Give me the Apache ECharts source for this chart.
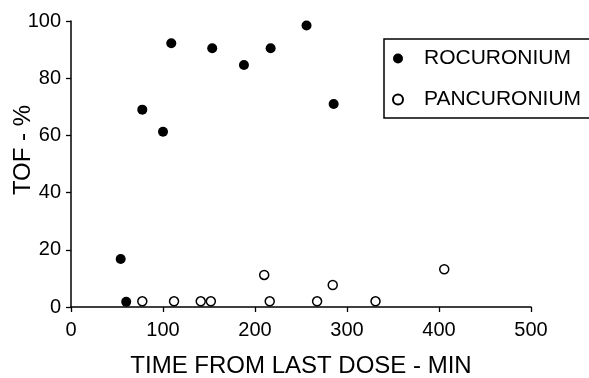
<!DOCTYPE html>
<html>
<head>
<meta charset="utf-8">
<script src="https://cdn.jsdelivr.net/npm/echarts@6/dist/echarts.min.js"></script>
<style>
  html, body { margin: 0; padding: 0; background: #fff; }
  #chart { width: 589px; height: 378px; }
</style>
</head>
<body>
<div id="chart"></div>
<script>
// values
const rocTime = [54, 60, 77.5, 100, 109, 153.5, 188, 217, 256, 285.5];
const rocTof = [16.8, 1.8, 69, 61.3, 92.2, 90.5, 84.6, 90.5, 98.4, 71];
const panTime = [77.5, 112, 141, 152, 210, 216, 267.5, 284.5, 331, 405.7];
const panTof = [2, 2, 2, 2, 11.2, 2, 2, 7.7, 2, 13.2];

const font = 'Liberation Sans, Arial, sans-serif';
const chart = echarts.init(document.getElementById('chart'));

const zip = (xs, ys) => xs.map((x, i) => [x, ys[i]]);

const tickStyle = { color: '#000', width: 1.3 };
const lineStyle = { color: '#000', width: 1.5 };

chart.setOption({
  animation: false,
  backgroundColor: '#fff',
  grid: { left: 71, top: 21, width: 460, height: 286, containLabel: false, outerBoundsMode: 'none' },
  legend: {
    orient: 'vertical',
    left: 384,
    top: 39,
    padding: [9, 90, 8, 8],   // right side runs off the page like the original box
    itemGap: 20,
    itemWidth: 10,
    itemHeight: 10,
    borderColor: '#000',
    borderWidth: 1.5,
    textStyle: { fontFamily: font, fontSize: 21, color: '#000', lineHeight: 20, padding: [0, 0, 0, 16] },
    data: ['ROCURONIUM', 'PANCURONIUM']
  },
  xAxis: {
    type: 'value',
    min: 0,
    max: 500,
    interval: 100,
    name: 'TIME FROM LAST DOSE - MIN',
    nameLocation: 'middle',
    nameGap: 47,
    nameMoveOverlap: false,
    nameTextStyle: { fontFamily: font, fontSize: 24, color: '#000' },
    splitLine: { show: false },
    axisLine: { show: true, lineStyle: lineStyle },
    axisTick: { show: true, length: 5, lineStyle: tickStyle },
    axisLabel: { fontFamily: font, fontSize: 20, color: '#000', margin: 13 }
  },
  yAxis: {
    type: 'value',
    min: 0,
    max: 100,
    interval: 20,
    name: 'TOF - %',
    nameLocation: 'middle',
    nameGap: 36,
    nameMoveOverlap: false,
    nameTextStyle: { fontFamily: font, fontSize: 24, color: '#000', padding: [0, 0, 0, 28] },
    splitLine: { show: false },
    axisLine: { show: true, lineStyle: lineStyle },
    axisTick: { show: true, length: 5, lineStyle: tickStyle },
    axisLabel: { fontFamily: font, fontSize: 20, color: '#000', margin: 10 }
  },
  series: [
    {
      name: 'ROCURONIUM',
      type: 'scatter',
      symbol: 'circle',
      symbolSize: 10,
      itemStyle: { color: '#000', opacity: 1 },
      data: zip(rocTime, rocTof)
    },
    {
      name: 'PANCURONIUM',
      type: 'scatter',
      symbol: 'circle',
      symbolSize: 9,
      itemStyle: { color: '#fff', borderColor: '#000', borderWidth: 1.5, opacity: 1 },
      data: zip(panTime, panTof)
    }
  ]
});
</script>
</body>
</html>
